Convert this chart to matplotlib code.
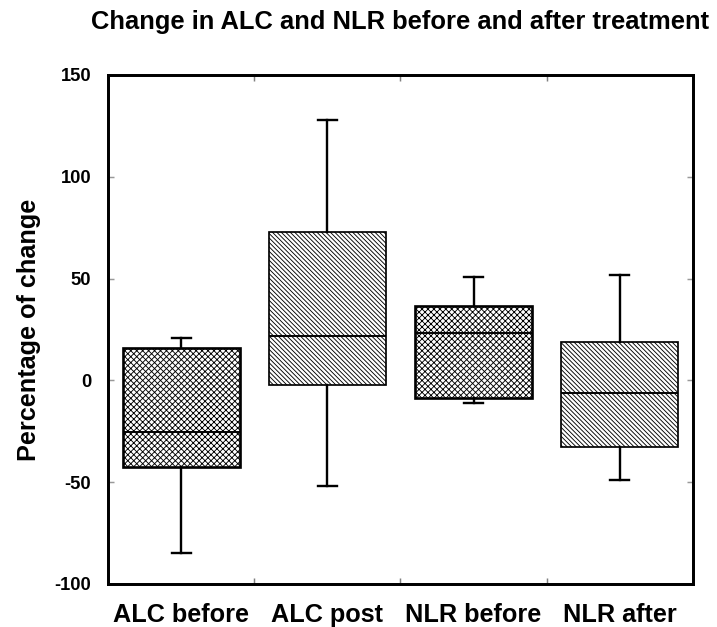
import matplotlib
matplotlib.use("Agg")
import matplotlib.pyplot as plt

# values (percentage of change)
labels = ["ALC before", "ALC post", "NLR before", "NLR after"]
whislo = [-85.0, -51.8, -10.9, -49.0]
q1 = [-42.5, -2.5, -8.5, -32.7]
med = [-25.3, 22.0, 23.2, -6.2]
q3 = [15.7, 72.7, 36.3, 19.1]
whishi = [20.6, 127.8, 50.6, 52.0]

hatches = ["xxxxxx", "\\" * 8, "xxxxxx", "\\" * 8]
edge_lw = [1.8, 1.15, 1.8, 1.15]

DPI = 107
plt.rcParams["font.family"] = ["Liberation Sans", "DejaVu Sans"]
plt.rcParams["font.weight"] = "bold"
plt.rcParams["hatch.linewidth"] = 0.6
plt.rcParams["axes.unicode_minus"] = False

fig = plt.figure(figsize=(717 / DPI, 627 / DPI), dpi=DPI)
ax = fig.add_axes([0.1506, 0.0686, 0.8159, 0.8118])

stats = []
for i in range(len(labels)):
    stats.append({"label": labels[i], "whislo": whislo[i], "q1": q1[i],
                  "med": med[i], "q3": q3[i], "whishi": whishi[i]})

bp = ax.bxp(stats, positions=[1, 2, 3, 4], widths=0.8, showfliers=False,
            patch_artist=True, capwidths=0.13,
            medianprops={"color": "black", "linewidth": 1.3},
            whiskerprops={"color": "black", "linewidth": 1.6},
            capprops={"color": "black", "linewidth": 1.6})

for box, h, lw in zip(bp["boxes"], hatches, edge_lw):
    box.set_facecolor("white")
    box.set_edgecolor("black")
    box.set_hatch(h)
    box.set_linewidth(lw)

ax.set_xlim(0.5, 4.5)
ax.set_ylim(-100, 150)
ax.set_yticks([-100, -50, 0, 50, 100, 150])
ax.set_xticks([1, 2, 3, 4])
ax.set_xticklabels(labels)
ax.set_xticks([1.5, 2.5, 3.5], minor=True)

for s in ax.spines.values():
    s.set_linewidth(2.0)

ax.tick_params(axis="x", which="major", length=0, pad=13, labelsize=17)
ax.tick_params(axis="x", which="minor", direction="in", length=4,
               width=1, color="0.5", top=True, bottom=True)
ax.tick_params(axis="y", direction="in", length=4, width=1, color="0.6",
               left=True, right=True, pad=11.4, labelsize=12.4)

ax.set_ylabel("Percentage of change", fontsize=17, fontweight="bold",
              labelpad=9)
ax.set_title("Change in ALC and NLR before and after treatment",
             fontsize=17.2, fontweight="bold", pad=31)

fig.savefig("out.png", dpi=DPI)
